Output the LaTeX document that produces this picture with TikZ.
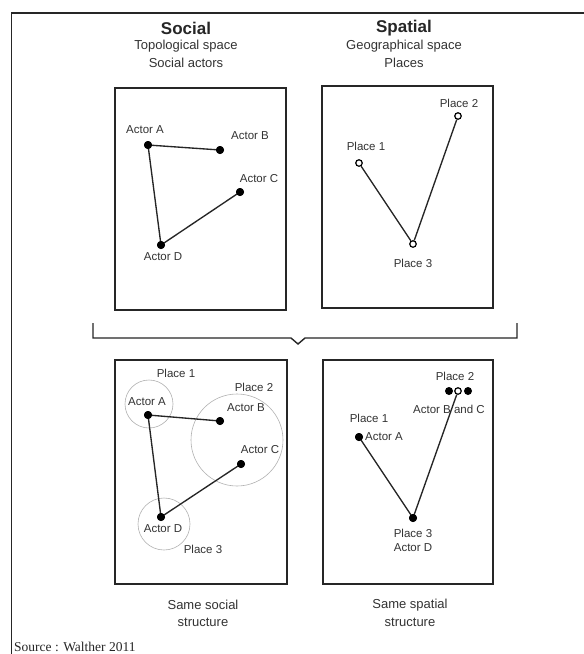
\documentclass[tikz,border=0pt]{standalone}
\usepackage{fontspec}
\setmainfont{Liberation Sans}
\newfontfamily\srcfont{Liberation Serif}
\begin{document}
\begin{tikzpicture}[x=1pt,y=-1pt,
  frame/.style={line width=1.4pt,draw=black!85},
  panel/.style={line width=1.5pt,draw=black!85},
  link/.style={line width=1.35pt,draw=black!85},
  dot/.style={circle,fill=black,inner sep=0pt,minimum size=8pt},
  odot/.style={circle,draw=black,fill=white,line width=1.2pt,inner sep=0pt,minimum size=6.5pt},
  zone/.style={draw=black!30,line width=0.6pt},
  title/.style={font=\fontsize{17}{19}\selectfont\bfseries,text=black!85},
  sub/.style={font=\fontsize{13}{15}\selectfont,text=black!80},
  lbl/.style={font=\fontsize{11.5}{13}\selectfont,text=black!80,inner sep=1pt}]
\useasboundingbox (0,0) rectangle (584,654);
\fill[white] (0,0) rectangle (584,654);
% outer frame
\draw[frame] (11.5,654) -- (11.5,13) -- (584,13);
% headings
\node[title] (tsoc) at (186,28) {Social};
\node[sub] (tsoc1) at (186,46) {Topological space};
\node[sub] (tsoc2) at (186,63) {Social actors};
\node[title] (tspa) at (404,28) {Spatial};
\node[sub] (tspa1) at (404,46) {Geographical space};
\node[sub] (tspa2) at (404,63) {Places};
% panels
\draw[panel] (115,88) rectangle (286,310);
\draw[panel] (322,86) rectangle (493,308);
\draw[panel] (115,360) rectangle (287,584);
\draw[panel] (323,360) rectangle (493,584);
% brace
\coordinate (bl) at (93,323);
\coordinate (br) at (517,323);
\draw[line width=1.4pt,draw=black!85] (bl) -- (93,338) -- (291,338) -- (298,344) -- (305,338) -- (517,338) -- (br);
% top-left: social actors
\node[dot] (a1) at (148,145) {};
\node[dot] (b1) at (220,150) {};
\node[dot] (c1) at (240,192) {};
\node[dot] (d1) at (161,245) {};
\draw[link] (a1.center) -- (b1.center);
\draw[link] (a1.center) -- (d1.center);
\draw[link] (d1.center) -- (c1.center);
\node[dot] at (a1) {};\node[dot] at (b1) {};\node[dot] at (c1) {};\node[dot] at (d1) {};
\node[lbl] (la1) at (145,130) {Actor A};
\node[lbl] (lb1) at (250,136) {Actor B};
\node[lbl] (lc1) at (259,179) {Actor C};
\node[lbl] (ld1) at (163,257) {Actor D};
% top-right: places
\node[odot] (p1) at (359,163) {};
\node[odot] (p2) at (458,116) {};
\node[odot] (p3) at (413,244) {};
\draw[link] (p1) -- (p3);
\draw[link] (p3) -- (p2);
\node[lbl] (lp1) at (366,146) {Place 1};
\node[lbl] (lp2) at (459,103) {Place 2};
\node[lbl] (lp3) at (413,263) {Place 3};
% bottom-left: same social structure
\draw[zone] (149,404) circle[radius=24];
\draw[zone] (237,440) circle[radius=46];
\draw[zone] (164,524) circle[radius=26];
\node[dot] (a2) at (148,415) {};
\node[dot] (b2) at (220,421) {};
\node[dot] (c2) at (241,464) {};
\node[dot] (d2) at (161,517) {};
\draw[link] (a2.center) -- (b2.center);
\draw[link] (a2.center) -- (d2.center);
\draw[link] (d2.center) -- (c2.center);
\node[dot] at (a2) {};\node[dot] at (b2) {};\node[dot] at (c2) {};\node[dot] at (d2) {};
\node[lbl] (la2) at (147,402) {Actor A};
\node[lbl] (lb2) at (246,408) {Actor B};
\node[lbl] (lc2) at (260,450) {Actor C};
\node[lbl] (ld2) at (163,529) {Actor D};
\node[lbl] (lq1) at (176,373) {Place 1};
\node[lbl] (lq2) at (254,387) {Place 2};
\node[lbl] (lq3) at (203,549) {Place 3};
% bottom-right: same spatial structure
\node[dot] (q1) at (359,437) {};
\node[dot] (qb) at (449,391) {};
\node[dot] (qc) at (468,391) {};
\node[odot] (q2) at (458,391) {};
\node[dot] (q3) at (413,518) {};
\draw[link] (q1.center) -- (q3.center);
\draw[link] (q3.center) -- (q2);
\node[dot] at (q1) {};\node[dot] at (q3) {};
\node[lbl] (lr2) at (455,376) {Place 2};
\node[lbl] (lbc) at (449,409) {Actor B and C};
\node[lbl] (lr1) at (369,418) {Place 1};
\node[lbl,anchor=west] (lra) at (364,437) {Actor A};
\node[lbl] (lr3) at (413,533) {Place 3};
\node[lbl] (lrd) at (413,548) {Actor D};
% captions
\node[sub] (cs1) at (203,605) {Same social};
\node[sub] (cs2) at (203,622) {structure};
\node[sub] (cp1) at (410,605) {Same spatial};
\node[sub] (cp2) at (410,622) {structure};
\node[anchor=base west,inner sep=0pt,font=\srcfont\fontsize{13.5}{15}\selectfont,text=black!85] (src) at (14,651) {Source : Walther 2011};
\end{tikzpicture}
\end{document}
